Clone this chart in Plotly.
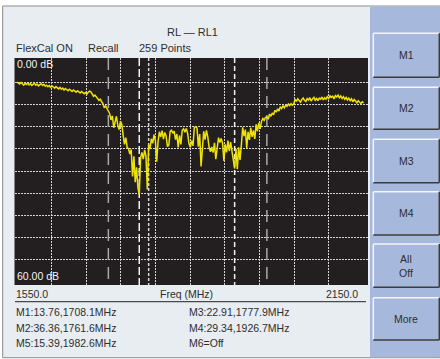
import numpy as np
import plotly.graph_objects as go

# ---- sweep data (return loss, dB) ----
start_mhz = 1550.0
stop_mhz = 2150.0
n_points = 259
freq_mhz = np.linspace(start_mhz, stop_mhz, n_points)

return_loss_db = [
    6.0, 6.2, 6.5, 6.1, 6.4, 6.8, 6.3, 6.6, 6.2, 6.7,
    6.4, 6.9, 6.6, 6.3, 6.8, 6.5, 7.0, 6.7, 6.4, 6.9,
    6.6, 7.1, 6.8, 7.2, 6.9, 7.4, 7.0, 7.3, 7.6, 7.2,
    7.5, 7.8, 7.4, 7.9, 7.6, 8.1, 7.7, 8.0, 8.3, 7.9,
    8.2, 8.5, 8.1, 8.4, 8.7, 8.3, 8.6, 8.9, 8.5, 8.8,
    9.1, 8.8, 9.2, 8.7, 8.4, 8.6, 9.3, 9.8, 9.5, 10.1,
    10.4, 10.9, 10.6, 11.3, 11.8, 12.9, 12.4, 13.1, 13.76, 14.5,
    16.2, 15.1, 18.3, 17.0, 15.2, 17.6, 18.8, 16.5, 17.4, 20.3,
    22.8, 21.0, 23.6, 24.0, 25.4, 24.2, 31.5, 26.0, 33.0, 29.0,
    34.5, 36.36, 26.5, 25.0, 26.8, 24.3, 26.0, 35.0, 22.91, 24.0,
    21.3, 22.5, 20.2, 21.8, 27.5, 22.0, 19.4, 20.8, 19.1, 21.4,
    19.6, 20.5, 23.4, 23.0, 19.3, 19.0, 19.8, 19.2, 21.5, 20.0,
    23.6, 20.4, 22.8, 19.0, 18.6, 19.5, 18.5, 19.8, 22.6, 23.6,
    21.8, 23.2, 18.2, 18.0, 18.4, 23.4, 20.0, 28.8, 23.0, 19.3,
    21.5, 19.0, 20.8, 23.6, 24.8, 23.5, 25.0, 22.4, 26.8, 23.0,
    21.0, 22.3, 21.2, 22.5, 27.3, 22.8, 25.0, 21.8, 24.6, 22.2,
    24.5, 26.5, 29.34, 24.0, 29.5, 23.6, 27.0, 23.0, 18.2, 20.6,
    18.8, 23.8, 19.4, 21.6, 18.3, 20.8, 19.0, 21.3, 17.4, 19.2,
    17.0, 18.6, 16.6, 15.8, 16.3, 15.5, 15.39, 16.0, 14.6, 15.2,
    14.3, 14.8, 13.6, 14.1, 13.2, 13.8, 12.6, 13.1, 12.4, 12.9,
    12.2, 12.5, 11.9, 12.3, 11.8, 12.2, 11.9, 10.6, 11.2, 10.5,
    11.0, 11.4, 10.7, 10.3, 10.9, 11.2, 10.4, 10.8, 10.2, 11.1,
    10.5, 10.1, 10.9, 10.4, 11.0, 10.3, 10.6, 10.0, 10.8, 10.2,
    10.6, 9.9, 10.4, 9.7, 10.1, 9.8, 10.5, 9.6, 10.0, 9.5,
    10.2, 9.7, 10.4, 9.9, 10.6, 10.1, 10.8, 10.3, 11.0, 10.5,
    11.3, 10.7, 11.1, 11.6, 11.0, 11.4, 11.8, 11.3, 11.6,
]

# markers: name -> sweep point index
marker_names = ["M1", "M2", "M3", "M4", "M5"]
marker_index = [68, 91, 98, 162, 186]
marker_colors = ["#a9a9a9", "#f2f2f2", "#d9d9d9", "#f2f2f2", "#a9a9a9"]
marker_dashes = ["12px,7px", "8px,3px", "3px,2px", "5px,3px", "12px,7px"]

top_db = 0.0
bottom_db = 60.0
button_labels = ["M1", "M2", "M3", "M4", "All<br>Off", "More"]

# ---- page geometry (pixels) ----
W, H = 440, 359
FONT = "Liberation Sans, Arial, sans-serif"
TXT = "#2e2e2e"

# plot window
pl, pr, pt, pb = 14.5, 368.0, 58.0, 285.0
# pixel position of the sweep span and 0 / 60 dB
span_l, span_r = 17.0, 363.6
db_top_px, db_px = 60.0, 3.7

mhz_per_px = (stop_mhz - start_mhz) / (span_r - span_l)
x_range = [start_mhz - (span_l - pl) * mhz_per_px, start_mhz + (pr - span_l) * mhz_per_px]
y_range = [(pb - db_top_px) / db_px, (pt - db_top_px) / db_px]


def px(x):
    return x / W


def py(y):
    return 1 - y / H


fig = go.Figure()

# marker lines
for name, idx, col, dash in zip(marker_names, marker_index, marker_colors, marker_dashes):
    f = freq_mhz[idx]
    fig.add_trace(go.Scatter(
        x=[f, f], y=[y_range[1], y_range[0]], mode="lines",
        line=dict(color=col, width=1.5, dash=dash),
        hoverinfo="skip", showlegend=False,
    ))

# return loss trace
fig.add_trace(go.Scatter(
    x=freq_mhz, y=return_loss_db, mode="lines",
    line=dict(color="#efe205", width=1.5),
    hoverinfo="skip", showlegend=False,
))

shapes = []
# light instrument background with frame
shapes.append(dict(type="rect", xref="paper", yref="paper", layer="below",
                   x0=px(2.7), x1=px(440), y0=py(357.7), y1=py(6),
                   fillcolor="#e8edf2", line=dict(color="#8c8c8c", width=1)))
# soft-key panel
shapes.append(dict(type="rect", xref="paper", yref="paper", layer="below",
                   x0=px(370), x1=px(440), y0=py(357.2), y1=py(6.5),
                   fillcolor="#a6b9dc", line=dict(width=0)))
# plot window
shapes.append(dict(type="rect", xref="paper", yref="paper", layer="below",
                   x0=px(pl), x1=px(pr), y0=py(pb), y1=py(pt),
                   fillcolor="#231f20", line=dict(width=0)))
# separator under frequency labels
shapes.append(dict(type="line", xref="paper", yref="paper",
                   x0=px(15), x1=px(366), y0=py(301.7), y1=py(301.7),
                   line=dict(color="#4a4a4a", width=1.2)))

# soft keys
button_y = [(33.3, 77.3), (87.3, 129.3), (139.3, 182.7), (191.7, 235.0), (244.0, 287.3), (297.7, 340.0)]
bx0, bx1 = 373.3, 439.3
annotations = []
for lab, (y0, y1) in zip(button_labels, button_y):
    shapes.append(dict(type="rect", xref="paper", yref="paper",
                       x0=px(bx0), x1=px(bx1), y0=py(y1), y1=py(y0),
                       fillcolor="#a6b9dc", line=dict(width=0)))
    # bevel: light top/left, dark bottom/right
    shapes.append(dict(type="line", xref="paper", yref="paper",
                       x0=px(bx0), x1=px(bx1), y0=py(y0), y1=py(y0),
                       line=dict(color="#f3f6fb", width=1.5)))
    shapes.append(dict(type="line", xref="paper", yref="paper",
                       x0=px(bx0), x1=px(bx0), y0=py(y1), y1=py(y0),
                       line=dict(color="#f3f6fb", width=1.5)))
    shapes.append(dict(type="line", xref="paper", yref="paper",
                       x0=px(bx0), x1=px(bx1), y0=py(y1), y1=py(y1),
                       line=dict(color="#3c3c3c", width=1.5)))
    shapes.append(dict(type="line", xref="paper", yref="paper",
                       x0=px(bx1), x1=px(bx1), y0=py(y1), y1=py(y0),
                       line=dict(color="#3c3c3c", width=1.5)))
    annotations.append(dict(text=lab, xref="paper", yref="paper",
                            x=px((bx0 + bx1) / 2), y=py((y0 + y1) / 2),
                            xanchor="center", yanchor="middle", showarrow=False,
                            font=dict(family=FONT, size=10.5, color=TXT)))


def label(text, x, y, size=10.5, color=TXT, anchor="left"):
    annotations.append(dict(text=text, xref="paper", yref="paper",
                            x=px(x), y=py(y), xanchor=anchor, yanchor="middle",
                            showarrow=False, borderpad=0,
                            font=dict(family=FONT, size=size, color=color)))


label("RL \u2014 RL1", 192, 31.5, size=11, anchor="center")
label("FlexCal ON", 15, 48.5, size=11)
label("Recall", 86.5, 48.5, size=11)
label("259 Points", 137.5, 48.5, size=11)
label(f"{top_db:.2f} dB", 15.5, 64.5, size=10.5, color="#f4f4f4")
label(f"{bottom_db:.2f} dB", 15.5, 275.5, size=10.5, color="#f4f4f4")
label(f"{start_mhz:.1f}", 14.5, 293.7, size=10.5)
label("Freq (MHz)", 186, 293.7, size=10.5, anchor="center")
label(f"{stop_mhz:.1f}", 359, 293.7, size=10.5, anchor="right")

# marker readouts
readout = {name: f"{name}:{return_loss_db[i]:.2f},{freq_mhz[i]:.1f}MHz"
           for name, i in zip(marker_names, marker_index)}
label(readout["M1"], 14.5, 311.5)
label(readout["M2"], 14.5, 327.5)
label(readout["M5"], 14.5, 343)
label(readout["M3"], 188, 311.5)
label(readout["M4"], 188, 327.5)
label("M6=Off", 188, 343)

grid = dict(showgrid=True, gridcolor="#d4d4d4", gridwidth=1, griddash="2px,1px",
            zeroline=False, showticklabels=False, ticks="", showline=False)

fig.update_layout(
    width=W, height=H, autosize=False,
    margin=dict(l=0, r=0, t=0, b=0, pad=0),
    paper_bgcolor="white", plot_bgcolor="rgba(0,0,0,0)",
    shapes=shapes, annotations=annotations,
    xaxis=dict(domain=[px(pl), px(pr)], range=x_range,
               tickvals=[start_mhz + k * 60 for k in range(1, 10)], **grid),
    yaxis=dict(domain=[py(pb), py(pt)], range=y_range,
               tickvals=[k * 6 for k in range(1, 10)], **grid),
)

fig.write_html("out.html")
